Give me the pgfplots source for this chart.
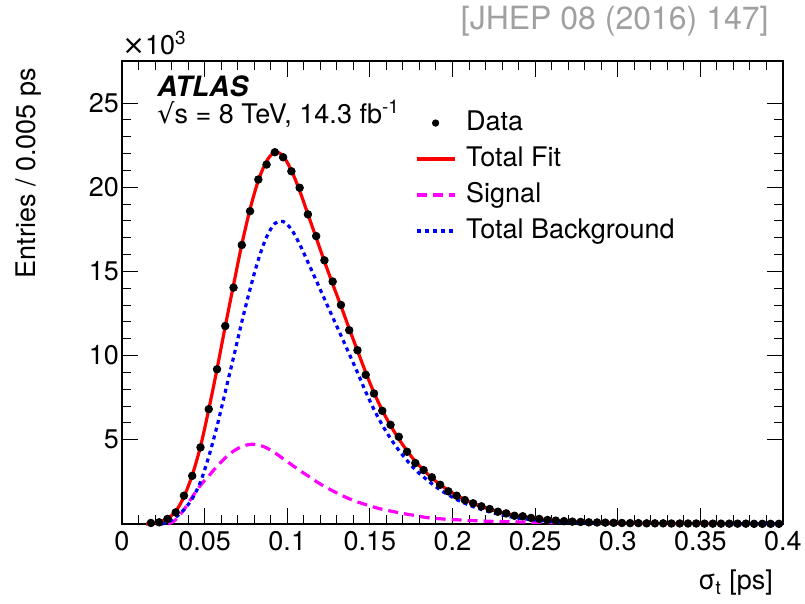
\documentclass[border=0pt]{standalone}
\usepackage{pgfplots}
\pgfplotsset{compat=1.18}
\usepackage{fontspec}
\setmainfont{TeX Gyre Heros}
\newfontfamily\dejavu{DejaVu Sans}
\definecolor{citegray}{RGB}{160,160,160}
\definecolor{sigmag}{RGB}{255,0,255}
\definecolor{fitred}{RGB}{255,0,0}
\definecolor{bkgblue}{RGB}{0,0,255}
\begin{document}
\begin{tikzpicture}[font=\fontsize{13.5pt}{16pt}\selectfont]
\useasboundingbox (-61pt,-40pt) rectangle (341.5pt,262pt);
\begin{axis}[
  scale only axis, width=330.5pt, height=231.5pt,
  at={(0,0)}, anchor=south west,
  xmin=0, xmax=0.4, ymin=0, ymax=27.5,
  xtick={0,0.05,0.1,0.15,0.2,0.25,0.3,0.35,0.4},
  xticklabels={0,0.05,0.1,0.15,0.2,0.25,0.3,0.35,0.4},
  ytick={5,10,15,20,25},
  yticklabels={5,10,15,20,25},
  minor x tick num=4, minor y tick num=4,
  tick align=inside,
  major tick length=8pt, minor tick length=4.5pt,
  axis line style={line width=0.75pt},
  every tick/.style={black, line width=0.5pt},
  /pgf/number format/assume math mode=true,
  yticklabel style={xshift=2pt},
  xlabel={σ\textsubscript{t} [ps]},
  ylabel={Entries / 0.005 ps},
  xlabel style={at={(axis description cs:0.9955,-0.1425)}, anchor=base east},
  ylabel style={at={(axis description cs:-0.1316,1)}, anchor=base east, rotate=0},
  legend style={draw=none, fill=none, at={(rel axis cs:0.4433,0.894)}, anchor=north west,
    inner sep=0pt, outer sep=0pt, row sep=5pt, column sep=5pt,
    nodes={inner sep=0pt, text height=10pt, text depth=3pt}},
  legend cell align=left,
  legend image code/.code={\draw[#1] (0pt,0pt) -- (19pt,0pt);},
  clip=false,
]
\addlegendimage{legend image code/.code={\fill[black] (9.5pt,0pt) circle (1.6pt);}}
\addlegendentry{Data}
\addlegendimage{fitred, line width=1.6pt}
\addlegendentry{Total Fit}
\addlegendimage{sigmag, line width=1.6pt, dash pattern=on 5pt off 3pt}
\addlegendentry{Signal}
\addlegendimage{bkgblue, line width=1.6pt, dash pattern=on 2pt off 2pt}
\addlegendentry{Total Background}

% Total fit
\addplot[fitred, line width=1.6pt, smooth, forget plot] coordinates {
(0.0145,0) (0.0175,0.04) (0.0225,0.12) (0.0275,0.32) (0.0325,0.75) (0.0375,1.62)
(0.0425,2.9) (0.0475,4.6) (0.0525,6.8) (0.0575,9.2) (0.0625,11.75) (0.0675,14.2)
(0.0725,16.6) (0.0775,18.7) (0.0825,20.4) (0.0875,21.55) (0.0925,22.1) (0.0975,21.85)
(0.1025,21.0) (0.1075,19.8) (0.1125,18.4) (0.1175,17.0) (0.1225,15.6) (0.1275,14.25)
(0.1325,12.95) (0.1375,11.6) (0.1425,10.3) (0.1475,9.0) (0.1525,7.8) (0.1575,6.75)
(0.1625,5.85) (0.1675,5.05) (0.1725,4.35) (0.1775,3.72) (0.1825,3.2) (0.1875,2.74)
(0.1925,2.34) (0.1975,2.0) (0.2025,1.7) (0.2075,1.45) (0.2125,1.23) (0.2175,1.04)
(0.2225,0.88) (0.2275,0.74) (0.2325,0.62) (0.2375,0.52) (0.2425,0.44) (0.2475,0.37)
(0.2525,0.31) (0.2575,0.26) (0.2625,0.21) (0.2675,0.17) (0.2775,0.12) (0.2875,0.09)
(0.3075,0.05) (0.3375,0.03) (0.3675,0.02) (0.4,0.01)
};
% Signal
\addplot[sigmag, line width=1.6pt, dash pattern=on 5pt off 3pt, smooth, forget plot] coordinates {
(0.028,0) (0.0325,0.25) (0.0375,0.85) (0.0425,1.6) (0.0475,2.3) (0.0525,2.85)
(0.0575,3.43) (0.0625,3.93) (0.0675,4.33) (0.0725,4.6) (0.0775,4.73) (0.0825,4.7)
(0.0875,4.52) (0.0925,4.23) (0.0975,3.88) (0.1025,3.53) (0.1075,3.18) (0.1125,2.86)
(0.1175,2.53) (0.1225,2.23) (0.1275,1.97) (0.1325,1.72) (0.1375,1.5) (0.1425,1.31)
(0.1475,1.15) (0.1525,1.0) (0.1575,0.87) (0.1625,0.77) (0.1675,0.67) (0.1725,0.58)
(0.1775,0.5) (0.1825,0.41) (0.1875,0.35) (0.1925,0.31) (0.1975,0.27) (0.2025,0.25)
(0.2075,0.22) (0.2125,0.2) (0.2175,0.18) (0.2225,0.16) (0.2275,0.15) (0.2325,0.14)
(0.2375,0.13) (0.2425,0.12) (0.2475,0.11) (0.2525,0.1) (0.2575,0.09) (0.2625,0.08)
(0.2675,0.06)
};
% Total background
\addplot[bkgblue, line width=1.6pt, dash pattern=on 2pt off 2pt, smooth, forget plot] coordinates {
(0.024,0) (0.0275,0.1) (0.0325,0.4) (0.0375,0.85) (0.0425,1.5) (0.0475,2.5)
(0.0525,4.0) (0.0575,5.8) (0.0625,7.85) (0.0675,9.9) (0.0725,12.0) (0.0775,13.95)
(0.0825,15.7) (0.0875,17.05) (0.0925,17.85) (0.0975,17.97) (0.1025,17.5) (0.1075,16.62)
(0.1125,15.55) (0.1175,14.47) (0.1225,13.37) (0.1275,12.28) (0.1325,11.2) (0.1375,10.1)
(0.1425,9.0) (0.1475,7.85) (0.1525,6.8) (0.1575,5.88) (0.1625,5.08) (0.1675,4.38)
(0.1725,3.77) (0.1775,3.22) (0.1825,2.79) (0.1875,2.39) (0.1925,2.03) (0.1975,1.73)
(0.2025,1.45) (0.2075,1.23) (0.2125,1.03) (0.2175,0.86) (0.2225,0.72) (0.2275,0.59)
(0.2325,0.48) (0.2375,0.39) (0.2425,0.32) (0.2475,0.26) (0.2525,0.21) (0.2575,0.17)
(0.2625,0.13) (0.2725,0.09) (0.2875,0.06) (0.3125,0.04) (0.35,0.02) (0.4,0.01)
};
% Data
\addplot[only marks, mark=*, mark size=1.9pt, black, forget plot] coordinates {
(0.0175,0.06) (0.0225,0.10) (0.0275,0.30) (0.0325,0.69) (0.0375,1.68) (0.0425,2.86)
(0.0475,4.55) (0.0525,6.82) (0.0575,9.19) (0.0625,11.76) (0.0675,14.04) (0.0725,16.57)
(0.0775,18.58) (0.0825,20.46) (0.0875,21.35) (0.0925,22.08) (0.0975,21.78) (0.1025,20.95)
(0.1075,19.97) (0.1125,18.39) (0.1175,17.10) (0.1225,15.66) (0.1275,14.40) (0.1325,13.01)
(0.1375,11.51) (0.1425,10.32) (0.1475,8.86) (0.1525,7.75) (0.1575,6.72) (0.1625,5.89)
(0.1675,5.18) (0.1725,4.29) (0.1775,3.62) (0.1825,3.20) (0.1875,2.77) (0.1925,2.33)
(0.1975,1.94) (0.2025,1.68) (0.2075,1.42) (0.2125,1.23) (0.2175,1.05) (0.2225,0.89)
(0.2275,0.73) (0.2325,0.63) (0.2375,0.49) (0.2425,0.46) (0.2475,0.36) (0.2525,0.30)
(0.2575,0.24) (0.2625,0.20) (0.2675,0.17) (0.2725,0.14) (0.2775,0.12) (0.2825,0.10)
(0.2875,0.09) (0.2925,0.08) (0.2975,0.07) (0.3025,0.06) (0.3075,0.05) (0.3125,0.05)
(0.3175,0.04) (0.3225,0.04) (0.3275,0.04) (0.3325,0.03) (0.3375,0.03) (0.3425,0.03)
(0.3475,0.03) (0.3525,0.02) (0.3575,0.02) (0.3625,0.02) (0.3675,0.02) (0.3725,0.02)
(0.3775,0.02) (0.3825,0.01) (0.3875,0.01) (0.3925,0.01) (0.3975,0.01)
};

\node[anchor=base west, inner sep=0pt] at (rel axis cs:0,1) [yshift=3pt] {{\dejavu ×}10\textsuperscript{3}};
\node[anchor=base west, inner sep=0pt, font=\fontsize{14pt}{16pt}\selectfont\bfseries\itshape] at (rel axis cs:0.053,0.924) {ATLAS};
\node[anchor=base west, inner sep=0pt] at (rel axis cs:0.053,0.864) {{\dejavu √}s = 8 TeV, 14.3 fb\textsuperscript{-1}};
\node[anchor=base east, inner sep=0pt, text=citegray, font=\fontsize{16pt}{18pt}\selectfont] at (rel axis cs:0.9788,1.067) {[JHEP 08 (2016) 147]};
\end{axis}
\end{tikzpicture}
\end{document}
